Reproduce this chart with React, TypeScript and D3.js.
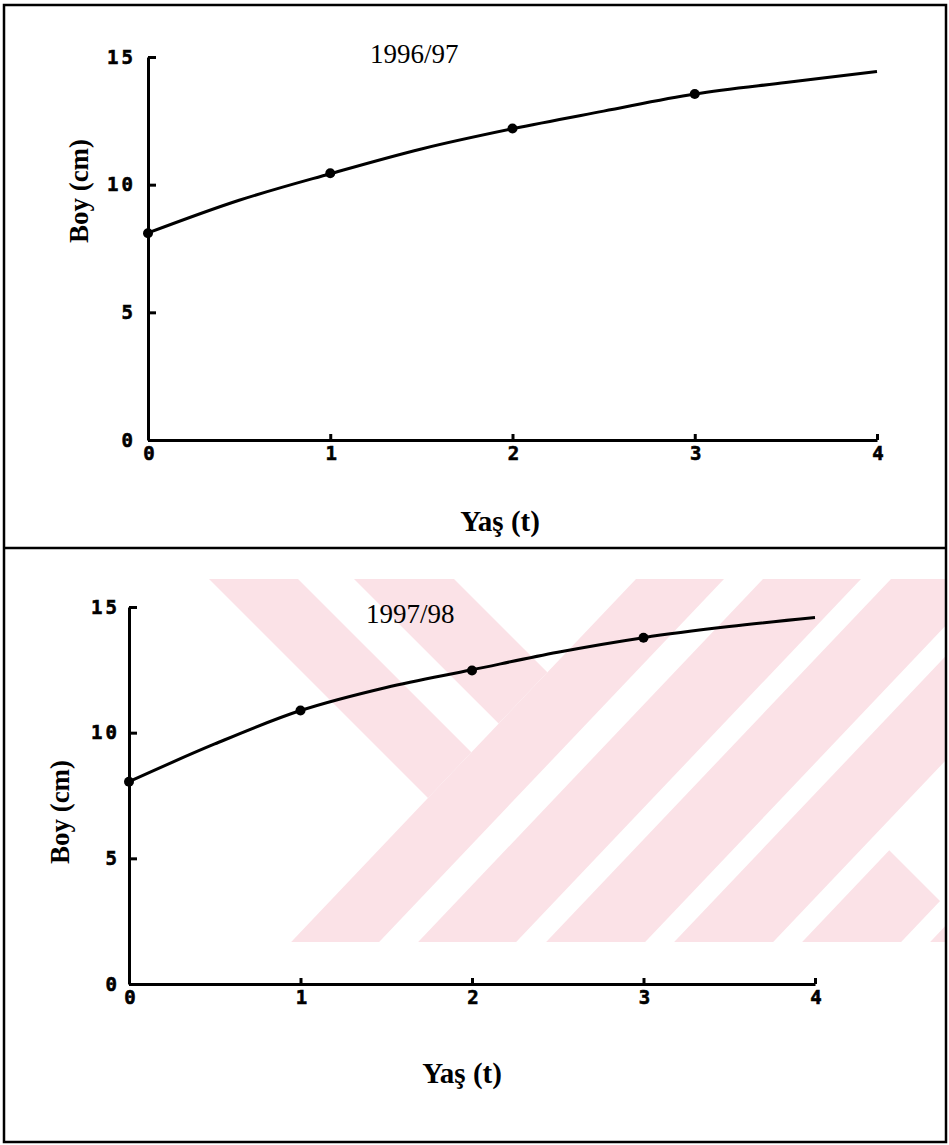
import React, { useRef, useEffect } from "react";
import * as d3 from "d3";

// Yaş (age) and Boy (length, cm)
const ages = [0, 0.5, 1, 1.5, 2, 2.5, 3, 3.5, 4];
const obsAges = [0, 1, 2, 3];

const fit9697 = [8.11, 9.39, 10.43, 11.4, 12.19, 12.88, 13.55, 14.0, 14.43];
const obs9697 = [8.1, 10.45, 12.2, 13.55];

const fit9798 = [8.05, 9.55, 10.88, 11.8, 12.5, 13.2, 13.78, 14.22, 14.58];
const obs9798 = [8.05, 10.88, 12.47, 13.78];

const xTicks = [0, 1, 2, 3, 4];
const yTicks = [0, 5, 10, 15];

const W = 949;
const H = 1145;

const tickFont = "'DejaVu Sans Mono', monospace";
const serif = "'Liberation Serif', 'Times New Roman', serif";

function Panel({ title, fit, obs, box, labels }) {
  const gRef = useRef();

  const x = d3.scaleLinear().domain([0, 4]).range([box.x0, box.x1]);
  const y = d3.scaleLinear().domain([0, 15]).range([box.y0, box.y1]);

  useEffect(() => {
    const g = d3.select(gRef.current);

    const yAxis = d3
      .axisLeft(y)
      .tickValues(yTicks)
      .tickFormat(d3.format("d"))
      .tickSizeInner(-8)
      .tickSizeOuter(0)
      .tickPadding(box.yPad);
    g.select(".y-axis").attr("transform", `translate(${box.x0},0)`).call(yAxis);

    const xAxis = d3
      .axisBottom(x)
      .tickValues(xTicks)
      .tickFormat(d3.format("d"))
      .tickSizeInner(-6)
      .tickSizeOuter(0)
      .tickPadding(7);
    g.select(".x-axis").attr("transform", `translate(0,${box.y0})`).call(xAxis);

    g.selectAll(".y-axis path, .x-axis path, .y-axis line, .x-axis line")
      .attr("stroke", "#000")
      .attr("stroke-width", 3);
    g.selectAll(".y-axis text, .x-axis text")
      .attr("fill", "#000")
      .attr("stroke", "#000")
      .attr("stroke-width", 0.6)
      .attr("font-family", tickFont)
      .attr("font-weight", "bold")
      .attr("font-size", 19)
      .attr("letter-spacing", 3);
    g.selectAll(".x-axis text").attr("dx", 2);

    const line = d3
      .line()
      .x((d, i) => x(ages[i]))
      .y((d) => y(d))
      .curve(d3.curveCatmullRom);

    g.select(".fit")
      .datum(fit)
      .attr("d", line)
      .attr("fill", "none")
      .attr("stroke", "#000")
      .attr("stroke-width", 3);

    g.select(".pts")
      .selectAll("circle")
      .data(obs)
      .join("circle")
      .attr("cx", (d, i) => x(obsAges[i]))
      .attr("cy", (d) => y(d))
      .attr("r", 5)
      .attr("fill", "#000");
  }, []);

  return (
    <g ref={gRef}>
      <g className="y-axis" />
      <g className="x-axis" />
      <path className="fit" />
      <g className="pts" />
      <text
        x={labels.titleX}
        y={labels.titleY}
        fontFamily={serif}
        fontSize={27}
        fill="#000"
      >
        {title}
      </text>
      <text
        transform={`translate(${labels.boyX},${labels.boyY}) rotate(-90)`}
        textAnchor="middle"
        fontFamily={serif}
        fontWeight="bold"
        fontSize={27}
        fill="#000"
      >
        Boy (cm)
      </text>
      <text
        x={labels.yasX}
        y={labels.yasY}
        textAnchor="middle"
        fontFamily={serif}
        fontWeight="bold"
        fontSize={29}
        fill="#000"
      >
        Yaş (t)
      </text>
    </g>
  );
}

// faint pink stripes of the scanned watermark (decoration only)
function Watermark() {
  const k = 0.95;
  const top = 579;
  const bottom = 942;
  const h = bottom - top;
  const slashBands = [
    [636, 724],
    [763, 861],
    [891, 990],
    [1019, 1118],
    [1147, 1246],
    [1275, 1374],
  ];
  const polys = slashBands.map(([a, b]) => [
    [a, top],
    [b, top],
    [b - k * h, bottom],
    [a - k * h, bottom],
  ]);
  // back-slash bands on the upper left, ending on the first slash band
  const edge = slashBands[0][0];
  [
    [209, 298],
    [354, 454],
  ].forEach(([a, b]) => {
    const tb = (edge - b) / (1 + k);
    const ta = (edge - a) / (1 + k);
    polys.push([
      [a, top],
      [b, top],
      [b + tb, top + tb],
      [a + ta, top + ta],
    ]);
  });
  return (
    <g>
      <defs>
        <clipPath id="wm-clip">
          <rect x={0} y={top} width={W - 3} height={h} />
        </clipPath>
      </defs>
      <g clipPath="url(#wm-clip)">
        {polys.map((p, i) => (
          <polygon key={i} points={p.map((q) => q.join(",")).join(" ")} fill="#fbe2e7" />
        ))}
        <polygon points="949,760 886,847 949,910" fill="#fff" />
      </g>
    </g>
  );
}

export default function App() {
  return (
    <svg
      width={W}
      height={H}
      style={{ position: "absolute", left: 0, top: 0, background: "#fff" }}
    >
      <Watermark />
      <rect x={4} y={5} width={942} height={1137} fill="none" stroke="#000" strokeWidth={2.5} />
      <line x1={4} x2={946} y1={548} y2={548} stroke="#000" strokeWidth={2.5} />
      <Panel
        title="1996/97"
        fit={fit9697}
        obs={obs9697}
        box={{ x0: 148, x1: 877, y0: 440, y1: 57, yPad: 12 }}
        labels={{ titleX: 370, titleY: 63, boyX: 88, boyY: 191, yasX: 500, yasY: 531 }}
      />
      <Panel
        title="1997/98"
        fit={fit9798}
        obs={obs9798}
        box={{ x0: 129, x1: 815, y0: 984, y1: 607, yPad: 9 }}
        labels={{ titleX: 366, titleY: 623, boyX: 69, boyY: 812, yasX: 462, yasY: 1083 }}
      />
    </svg>
  );
}
